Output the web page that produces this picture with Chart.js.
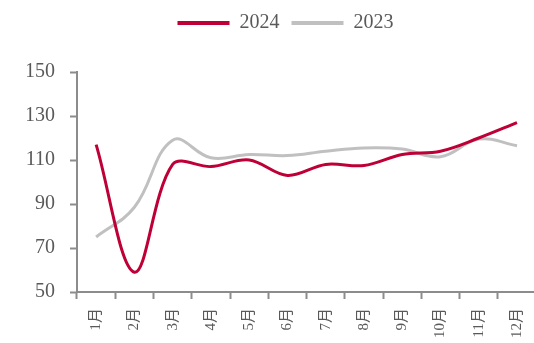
<!DOCTYPE html>
<html>
<head>
<meta charset="utf-8">
<script src="https://cdn.jsdelivr.net/npm/chart.js@4.4.1/dist/chart.umd.min.js"></script>
<style>
  html, body { margin: 0; padding: 0; background: #fff; overflow: hidden; }
  #wrap { width: 534px; height: 343px; overflow: hidden; }
</style>
</head>
<body>
<div id="wrap"><canvas id="chart" width="544" height="343"></canvas></div>
<script>
const months = ["1月", "2月", "3月", "4月", "5月", "6月", "7月", "8月", "9月", "10月", "11月", "12月"];
const values2024 = [117, 59, 108, 107, 110, 103, 108, 107.5, 112.5, 114, 120, 127];
const values2023 = [75, 88.5, 119, 111, 112.5, 112, 114, 115.5, 115, 111.5, 119.5, 116.5];
const yTicks = [50, 70, 90, 110, 130, 150];

const RED = "#BE0036";
const GREY = "#C0C0C0";
const TEXT = "#595959";
const AXIS = "#8C8C8C";
const SERIF = "'Liberation Serif', 'Noto Sans CJK SC', serif";

// extra room between the legend and the plot area
const legendGap = {
  id: "legendGap",
  beforeLayout(chart) {
    const lg = chart.legend;
    if (!lg || lg._gapPatched) return;
    const fit = lg.fit.bind(lg);
    lg.fit = function () {
      fit();
      this.height += 29;
    };
    lg._gapPatched = true;
  }
};

new Chart(document.getElementById("chart"), {
  type: "line",
  data: {
    labels: months,
    datasets: [
      {
        label: "2024",
        data: values2024,
        borderColor: RED,
        backgroundColor: RED,
        borderWidth: 3,
        pointRadius: 0,
        tension: 0.35
      },
      {
        label: "2023",
        data: values2023,
        borderColor: GREY,
        backgroundColor: GREY,
        borderWidth: 3,
        pointRadius: 0,
        tension: 0.4
      }
    ]
  },
  plugins: [legendGap],
  options: {
    responsive: false,
    animation: false,
    layout: { padding: { left: 27, right: 0, top: 1, bottom: 0 } },
    plugins: {
      tooltip: { enabled: false },
      legend: {
        position: "top",
        labels: {
          color: TEXT,
          font: { family: SERIF, size: 20 },
          boxWidth: 52,
          boxHeight: 4,
          padding: 12,
          generateLabels: (chart) => chart.data.datasets.map((ds, i) => ({
            text: ds.label,
            fillStyle: ds.borderColor,
            strokeStyle: ds.borderColor,
            fontColor: TEXT,
            lineWidth: 0,
            hidden: false,
            datasetIndex: i
          }))
        }
      }
    },
    scales: {
      x: {
        offset: true,
        afterFit: (scale) => { scale.height = 51; },
        grid: {
          offset: true,
          drawOnChartArea: false,
          drawTicks: true,
          tickLength: 7,
          tickWidth: 2,
          tickColor: AXIS
        },
        border: { color: AXIS, width: 2 },
        ticks: {
          color: TEXT,
          font: { family: SERIF, size: 15 },
          minRotation: 90,
          maxRotation: 90,
          autoSkip: false,
          padding: 9
        }
      },
      y: {
        min: 50,
        max: 150,
        afterFit: (scale) => { scale.width = 50; },
        afterBuildTicks: (scale) => { scale.ticks = yTicks.map((v) => ({ value: v })); },
        grid: {
          drawOnChartArea: false,
          drawTicks: true,
          tickLength: 7,
          tickWidth: 2,
          tickColor: AXIS
        },
        border: { color: AXIS, width: 2 },
        ticks: {
          color: TEXT,
          font: { family: SERIF, size: 20 },
          padding: 15
        }
      }
    }
  }
});
</script>
</body>
</html>
